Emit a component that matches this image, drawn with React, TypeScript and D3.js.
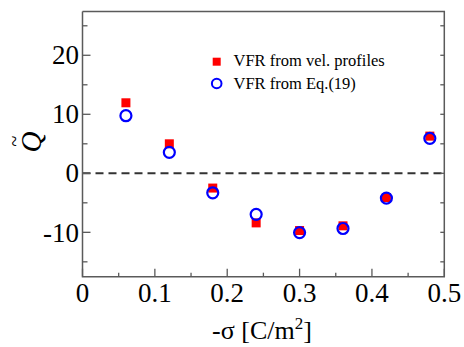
import React from "react";
import * as d3 from "d3";

// -σ values (C/m²)
const sigma = [0.06, 0.12, 0.18, 0.24, 0.3, 0.36, 0.42, 0.48];
// Volume flow rate computed from velocity profiles
const vfrProfiles = [11.95, 5.0, -2.5, -8.4, -9.7, -8.9, -4.1, 6.3];
// Volume flow rate computed from Eq.(19)
const vfrEquation = [9.76, 3.55, -3.3, -6.95, -10.05, -9.35, -4.2, 5.93];

const xMajorTicks = [0, 0.1, 0.2, 0.3, 0.4, 0.5];
const xMinorTicks = [0.05, 0.15, 0.25, 0.35, 0.45];
const yMajorTicks = [-10, 0, 10, 20];
const yMinorTicks = [-15, -5, 5, 15, 25];

const legendLabels = ["VFR from vel. profiles", "VFR from Eq.(19)"];

const W = 464;
const H = 347;
const L = 82.5;
const R = 444.3;
const T = 11.5;
const B = 276.7;

export default function App() {
  const x = d3.scaleLinear().domain([0, 0.5]).range([L, R]);
  const y = d3.scaleLinear().domain([-17.52, 27.42]).range([B, T]);
  const serif = "Liberation Serif";
  const axisColor = "#5a5a5a";

  return (
    <svg
      width={W}
      height={H}
      style={{ position: "absolute", left: 0, top: 0, background: "#fff", fontFamily: serif }}
    >
      {/* zero reference line */}
      <line
        x1={L}
        x2={R}
        y1={y(0)}
        y2={y(0)}
        stroke="#333"
        strokeWidth={2}
        strokeDasharray="8 5"
      />

      {/* frame: left, bottom, right, top */}
      <path
        d={`M${L},${T}L${L},${B}L${R},${B}L${R},${T}L${L},${T}`}
        fill="none"
        stroke={axisColor}
        strokeWidth={1.5}
      />

      {/* left ticks */}
      {yMajorTicks.map((v) => (
        <line key={"ly" + v} x1={L} x2={L + 8} y1={y(v)} y2={y(v)} stroke={axisColor} strokeWidth={1.3} />
      ))}
      {yMinorTicks.map((v) => (
        <line key={"lm" + v} x1={L} x2={L + 5} y1={y(v)} y2={y(v)} stroke={axisColor} strokeWidth={1.3} />
      ))}
      {/* right ticks */}
      {[...yMajorTicks, ...yMinorTicks].map((v) => (
        <line key={"ry" + v} x1={R} x2={R - 4} y1={y(v)} y2={y(v)} stroke={axisColor} strokeWidth={1.3} />
      ))}
      {/* bottom ticks */}
      {xMajorTicks.map((v) => (
        <line key={"bx" + v} x1={x(v)} x2={x(v)} y1={B} y2={B - 8} stroke={axisColor} strokeWidth={1.3} />
      ))}
      {xMinorTicks.map((v) => (
        <line key={"bm" + v} x1={x(v)} x2={x(v)} y1={B} y2={B - 4} stroke={axisColor} strokeWidth={1.3} />
      ))}

      {/* tick labels */}
      {yMajorTicks.map((v) => (
        <text key={"yl" + v} x={L - 3.5} y={y(v)} dy="0.34em" textAnchor="end" fontSize={27} fill="#000" fontFamily={serif}>
          {v}
        </text>
      ))}
      {xMajorTicks.map((v) => (
        <text key={"xl" + v} x={x(v)} y={301.5} textAnchor="middle" fontSize={27} fill="#000" fontFamily={serif}>
          {v === 0 ? "0" : d3.format(".1f")(v)}
        </text>
      ))}

      {/* axis titles */}
      <text x={262} y={339} textAnchor="middle" fontSize={26} fill="#000" fontFamily={serif}>
        -σ [C/m
        <tspan dy={-10} fontSize={17}>2</tspan>
        <tspan dy={10}>]</tspan>
      </text>
      <g transform="translate(41,142) rotate(-90)">
        <text x={0} y={0} textAnchor="middle" fontSize={29} fontStyle="italic" fill="#000" fontFamily={serif}>
          Q
        </text>
        <text x={1} y={-20} textAnchor="middle" fontSize={20} fill="#000" fontFamily={serif}>
          ~
        </text>
      </g>

      {/* data */}
      {sigma.map((s, i) => (
        <rect key={"sq" + i} x={x(s) - 4.5} y={y(vfrProfiles[i]) - 4.5} width={9} height={9} fill="#ff0000" />
      ))}
      {sigma.map((s, i) => (
        <circle
          key={"ci" + i}
          cx={x(s)}
          cy={y(vfrEquation[i])}
          r={5.5}
          fill="none"
          stroke="#0000ff"
          strokeWidth={2.2}
        />
      ))}

      {/* legend */}
      <rect x={216.7 - 4} y={61.7 - 4} width={8} height={8} fill="#ff0000" />
      <circle cx={216.7} cy={83.5} r={4.8} fill="none" stroke="#0000ff" strokeWidth={2} />
      <text x={233.5} y={66.3} fontSize={16.5} fill="#000" fontFamily={serif}>
        {legendLabels[0]}
      </text>
      <text x={233.5} y={88.5} fontSize={16.5} fill="#000" fontFamily={serif}>
        {legendLabels[1]}
      </text>
    </svg>
  );
}
